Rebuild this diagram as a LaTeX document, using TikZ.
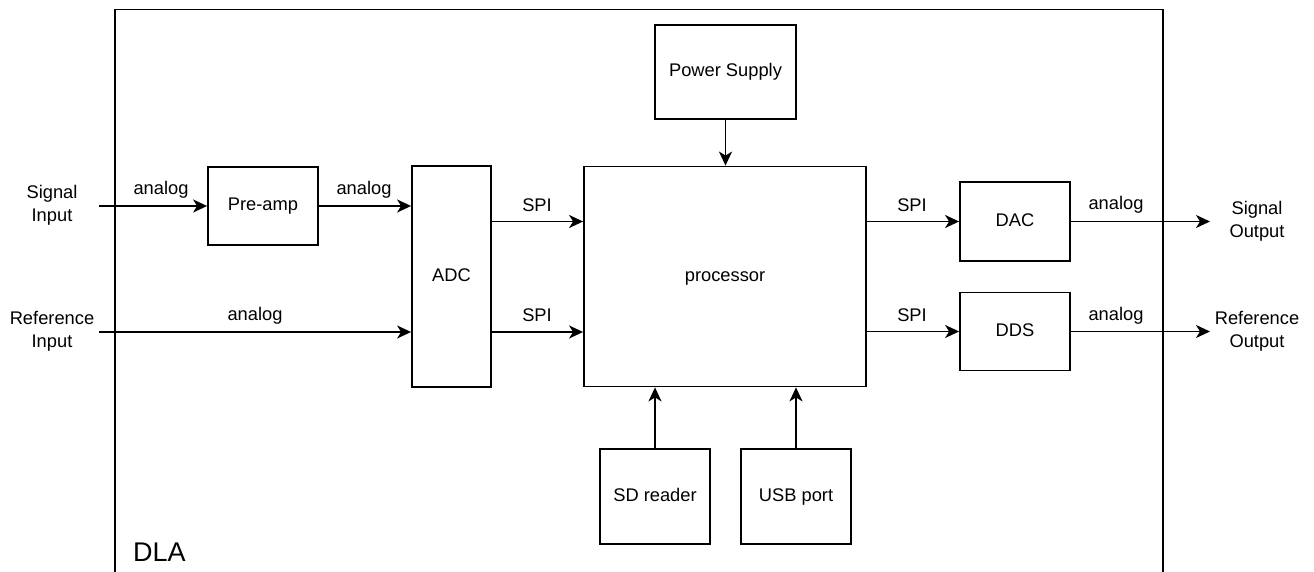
\documentclass[tikz,border=0pt]{standalone}
\usepackage{fontspec}
\setmainfont{Liberation Sans}
\usetikzlibrary{arrows.meta,calc}
\begin{document}
\begin{tikzpicture}[x=1pt,y=-1pt,
  every node/.style={font=\fontsize{18.3}{23}\selectfont},
  blk/.style={draw,line width=1.8pt,rectangle,inner sep=0pt,minimum width=#1,text height=13.2pt,text depth=3.9pt},
  lbl/.style={inner sep=0pt,align=center},
  conn/.style={line width=1.8pt,-{Stealth[length=14pt,width=13pt,inset=4pt]}}
]
\useasboundingbox (0,0) rectangle (1314,572);
\draw[line width=1.8pt] (115,575) -- (115,9.5) -- (1163,9.5) -- (1163,575);
\node[lbl,anchor=west,font=\fontsize{27}{30}\selectfont] (dla) at (133,552) {DLA};

\node[blk=110pt,minimum height=78pt] (pre) at (263,206) {Pre-amp};
\node[blk=79pt,minimum height=221pt] (adc) at (451.5,276.5) {ADC};
\node[blk=282pt,minimum height=220pt] (proc) at (725,276.5) {processor};
\node[blk=141pt,minimum height=94pt] (pwr) at (725.5,72) {Power Supply};
\node[blk=110pt,minimum height=95pt] (sd) at (655,496.5) {SD reader};
\node[blk=110pt,minimum height=95pt] (usb) at (796,496.5) {USB port};
\node[blk=110pt,minimum height=79pt] (dac) at (1015,221.5) {DAC};
\node[blk=110pt,minimum height=78pt] (dds) at (1015,331.5) {DDS};

\node[lbl] (sin) at (52,205.5) {Signal\\Input};
\node[lbl] (rin) at (52,331.5) {Reference\\Input};
\node[lbl] (sout) at (1257,221.5) {Signal\\Output};
\node[lbl] (rout) at (1257,331.5) {Reference\\Output};

\coordinate (sinE) at (99,206);
\coordinate (rinE) at (99,332);
\coordinate (soutW) at (1210,221.5);
\coordinate (routW) at (1210,331.5);

\draw[conn] (sinE) -- (pre.west);
\draw[conn] (rinE) -- (rinE -| adc.west);
\draw[conn] (pre.east) -- (pre.east -| adc.west);
\draw[conn] (adc.east |- 0,221.5) -- (proc.west |- 0,221.5);
\draw[conn] (adc.east |- 0,332) -- (proc.west |- 0,332);
\draw[conn] (proc.east |- dac.west) -- (dac.west);
\draw[conn] (proc.east |- dds.west) -- (dds.west);
\draw[conn] (dac.east) -- (soutW);
\draw[conn] (dds.east) -- (routW);
\draw[conn] (pwr.south) -- (proc.north -| pwr.south);
\draw[conn] (sd.north) -- (proc.south -| sd.north);
\draw[conn] (usb.north) -- (proc.south -| usb.north);

\node[lbl] (l1) at (161,190) {analog};
\node[lbl] (l2) at (364,190) {analog};
\node[lbl] (l3) at (255,316) {analog};
\node[lbl] (l4) at (537,205) {SPI};
\node[lbl] (l5) at (537,315) {SPI};
\node[lbl] (l6) at (912,205) {SPI};
\node[lbl] (l7) at (912,315) {SPI};
\node[lbl] (l8) at (1116,205) {analog};
\node[lbl] (l9) at (1116,316) {analog};
\end{tikzpicture}
\end{document}
